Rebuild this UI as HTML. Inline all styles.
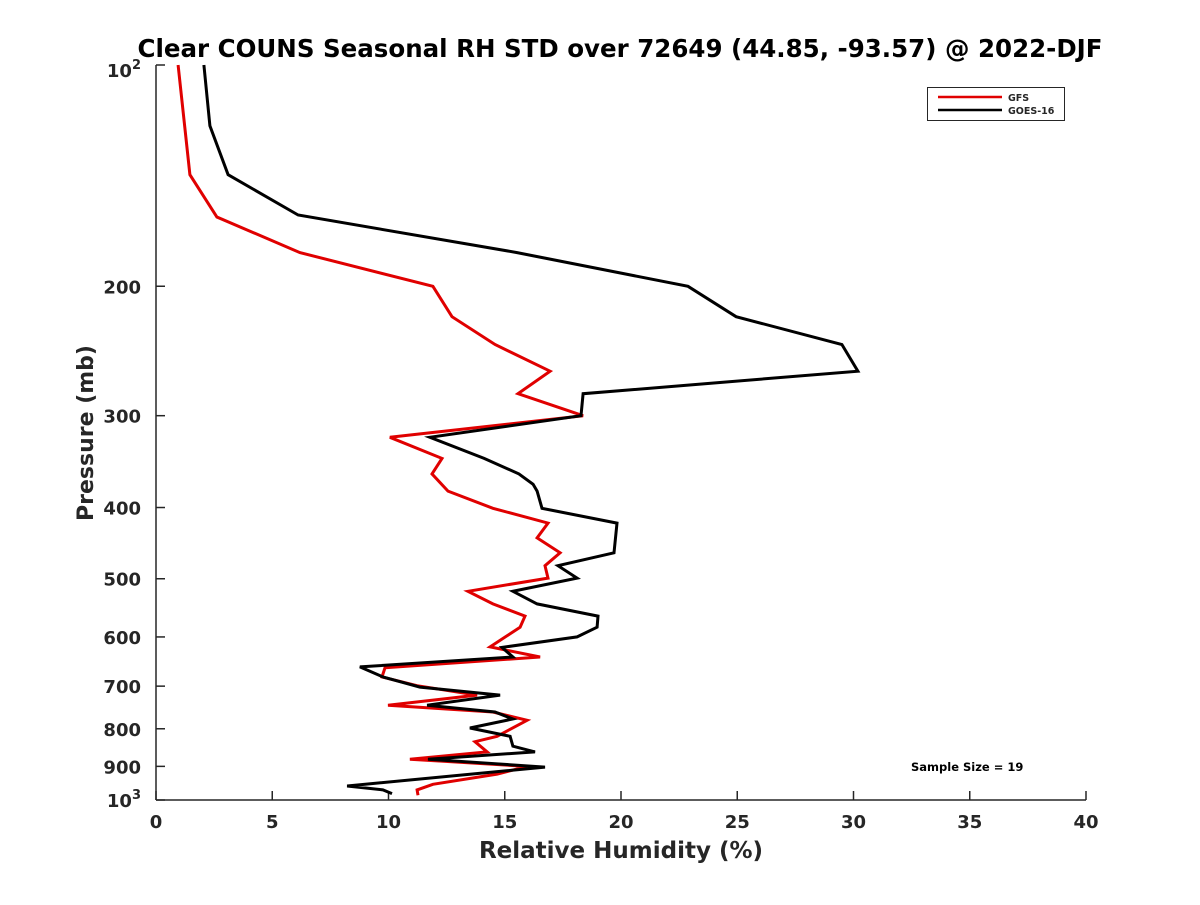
<!DOCTYPE html>
<html><head><meta charset="utf-8"><style>
body{margin:0;background:#fff}
svg text{font-family:"DejaVu Sans","Liberation Sans",sans-serif;font-weight:bold;fill:#262626}
</style></head><body>
<svg id="chart" width="1200" height="900" xmlns="http://www.w3.org/2000/svg">
<rect width="1200" height="900" fill="#fff"/>
<text x="620" y="57" font-size="24.5" text-anchor="middle" style="fill:#000">Clear COUNS Seasonal RH STD over 72649 (44.85, -93.57) @ 2022-DJF</text>
<g id="axes"></g>
<g id="series"></g>
<text transform="translate(93,433) rotate(-90)" font-size="22" text-anchor="middle">Pressure (mb)</text>
<text x="621" y="858" font-size="23" text-anchor="middle">Relative Humidity (%)</text>
<g>
<rect x="927.5" y="87.5" width="137" height="33" fill="#fff" stroke="#262626" stroke-width="1"/>
<line x1="938" y1="97" x2="1002" y2="97" stroke="#e00000" stroke-width="2.5"/>
<line x1="938" y1="110" x2="1002" y2="110" stroke="#000" stroke-width="2.5"/>
<text x="1008" y="101" font-size="9.5">GFS</text>
<text x="1008" y="114" font-size="9.5">GOES-16</text>
</g>
<text x="911" y="771" font-size="11.5" style="fill:#000">Sample Size = 19</text>
</svg>
<script>
const xTicks=[0,5,10,15,20,25,30,35,40];
const yTicks=[200,300,400,500,600,700,800,900];
const gfsP=[100,141,161,180,200,220,240,261,280,300,321,343,360,380,401,420,440,461,480,499,520,541,562,582,619,639,661,680,699,720,743,759,779,819,833,860,880,900,922,952,969,985];
const gfsRH=[0.95,1.46,2.62,6.19,11.91,12.73,14.58,16.95,15.57,18.37,10.06,12.3,11.87,12.56,14.49,16.86,16.39,17.38,16.73,16.86,13.42,14.49,15.87,15.66,14.37,16.52,9.85,9.72,11.23,13.81,9.98,14.49,15.96,14.67,13.72,14.24,10.92,15.96,14.67,11.91,11.23,11.27];
const goesP=[100,121,141,160,180,200,220,240,261,280,300,321,343,360,372,380,401,420,461,480,499,520,541,562,582,600,620,639,659,680,702,720,743,759,776,798,819,845,860,880,902,957,969,980];
const goesRH=[2.06,2.32,3.10,6.11,15.53,22.88,24.95,29.5,30.19,18.37,18.28,11.78,14.11,15.61,16.22,16.39,16.6,19.83,19.7,17.29,18.11,15.35,16.39,19.01,18.97,18.11,14.88,15.35,8.77,9.76,11.35,14.8,11.66,14.58,15.35,13.5,15.23,15.35,16.3,11.7,16.73,8.22,9.76,10.15];
const X0=156,X1=1086,Y0=65,Y1=800;
function xs(v){return X0+(v-0)/40*(X1-X0);}
function ys(p){return Y0+(Math.log10(p)-2)*(Y1-Y0);}
const NS='http://www.w3.org/2000/svg';
function mk(t,a,parent){const e=document.createElementNS(NS,t);for(const k in a)e.setAttribute(k,a[k]);parent.appendChild(e);return e;}
const ax=document.getElementById('axes');
const xl=mk('line',{x1:X0,y1:Y1,x2:X1,y2:Y1,stroke:'#262626','stroke-width':1.5},ax);


const yl=mk('line',{x1:X0,y1:Y0,x2:X0,y2:Y1,stroke:'#262626','stroke-width':1.5},ax);


xTicks.forEach(v=>{
  mk('line',{x1:xs(v),y1:Y1,x2:xs(v),y2:Y1-9,stroke:'#262626','stroke-width':1.5},ax);
  const t=mk('text',{x:xs(v),y:Y1+28,'font-size':18,'text-anchor':'middle'},ax);
  
  
  t.textContent=v;
});
[100,1000].concat(yTicks).forEach(p=>{
  mk('line',{x1:X0,y1:ys(p),x2:X0+9,y2:ys(p),stroke:'#262626','stroke-width':1.5},ax);
});
yTicks.forEach(p=>{
  const t=mk('text',{x:X0-15,y:ys(p)+7,'font-size':18,'text-anchor':'end'},ax);
  
  
  t.textContent=p;
});
[[100,'2'],[1000,'3']].forEach(([p,e])=>{
  const t=mk('text',{x:X0-15,y:ys(p)+(p==100?12:7),'font-size':18,'text-anchor':'end'},ax);
  
  
  const a=document.createElementNS(NS,'tspan');a.textContent='10';t.appendChild(a);
  const b=document.createElementNS(NS,'tspan');b.setAttribute('dy','-8');b.setAttribute('font-size','13');b.textContent=e;t.appendChild(b);
});
const sg=document.getElementById('series');
function line(P,R,color,name){
  const pts=P.map((p,i)=>xs(R[i]).toFixed(1)+','+ys(p).toFixed(1)).join(' ');
  const l=mk('polyline',{points:pts,fill:'none',stroke:color,'stroke-width':3,'stroke-linejoin':'miter'},sg);
  
  
}
line(gfsP,gfsRH,'#e00000','gfs-line');
line(goesP,goesRH,'#000','goes16-line');
</script>
</body></html>
